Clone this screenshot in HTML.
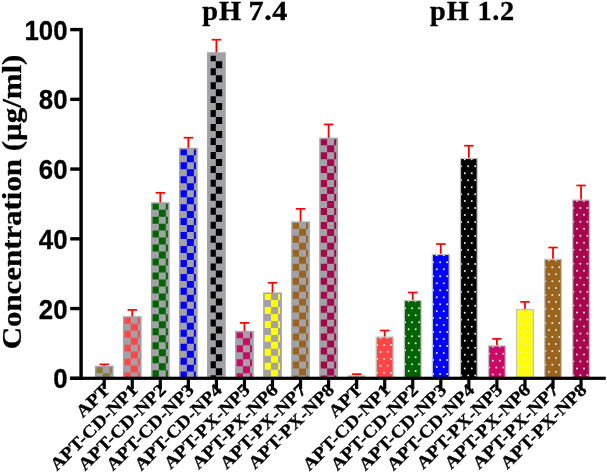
<!DOCTYPE html>
<html><head><meta charset="utf-8"><title>chart</title>
<style>
html,body{margin:0;padding:0;background:#fff;}
body{width:607px;height:473px;overflow:hidden;}
svg{display:block;will-change:transform;}
text{fill:#000;}
.ss{font-family:"Liberation Sans",sans-serif;font-weight:bold;}
.sf{font-family:"Liberation Serif",serif;font-weight:bold;}
</style></head><body>
<svg width="607" height="473" viewBox="0 0 607 473">
<defs><clipPath id="c0"><rect x="348.90" y="376.46" width="15.50" height="1.84"/></clipPath>
<clipPath id="c1"><rect x="376.95" y="337.76" width="15.50" height="40.54"/></clipPath>
<clipPath id="c2"><rect x="405.00" y="301.14" width="15.50" height="77.16"/></clipPath>
<clipPath id="c3"><rect x="433.05" y="255.11" width="15.50" height="123.19"/></clipPath>
<clipPath id="c4"><rect x="461.10" y="159.05" width="15.50" height="219.25"/></clipPath>
<clipPath id="c5"><rect x="489.15" y="346.47" width="15.50" height="31.83"/></clipPath>
<clipPath id="c6"><rect x="517.20" y="310.21" width="15.50" height="68.09"/></clipPath>
<clipPath id="c7"><rect x="545.25" y="260.00" width="15.50" height="118.30"/></clipPath>
<clipPath id="c8"><rect x="573.30" y="200.72" width="15.50" height="177.58"/></clipPath></defs>
<line x1="104.20" y1="366.75" x2="104.20" y2="364.35" stroke="#ff0000" stroke-width="1.8"/>
<line x1="99.50" y1="364.35" x2="108.90" y2="364.35" stroke="#ff0000" stroke-width="1.7"/>
<rect x="94.85" y="365.75" width="18.7" height="12.55" fill="#a2a2a6"/>
<path fill="#8b7a35" d="M96.45 367.35H102.73V373.22H96.45ZM109.71 367.35H111.75V373.22H109.71ZM102.73 373.22H109.71V378.30H102.73Z"/>
<line x1="132.25" y1="317.23" x2="132.25" y2="309.95" stroke="#ff0000" stroke-width="1.8"/>
<line x1="127.55" y1="309.95" x2="136.95" y2="309.95" stroke="#ff0000" stroke-width="1.7"/>
<rect x="122.90" y="316.23" width="18.7" height="62.07" fill="#a2a2a6"/>
<path fill="#ff4646" d="M124.50 317.83H130.78V323.71H124.50ZM137.76 317.83H139.80V323.71H137.76ZM130.78 323.71H137.76V330.69H130.78ZM124.50 330.69H130.78V337.67H124.50ZM137.76 330.69H139.80V337.67H137.76ZM130.78 337.67H137.76V344.64H130.78ZM124.50 344.64H130.78V351.62H124.50ZM137.76 344.64H139.80V351.62H137.76ZM130.78 351.62H137.76V358.60H130.78ZM124.50 358.60H130.78V365.58H124.50ZM137.76 358.60H139.80V365.58H137.76ZM130.78 365.58H137.76V372.56H130.78ZM124.50 372.56H130.78V378.30H124.50ZM137.76 372.56H139.80V378.30H137.76Z"/>
<line x1="160.30" y1="203.21" x2="160.30" y2="192.79" stroke="#ff0000" stroke-width="1.8"/>
<line x1="155.60" y1="192.79" x2="165.00" y2="192.79" stroke="#ff0000" stroke-width="1.7"/>
<rect x="150.95" y="202.21" width="18.7" height="176.09" fill="#a2a2a6"/>
<path fill="#006400" d="M152.55 203.81H158.83V209.68H152.55ZM165.81 203.81H167.85V209.68H165.81ZM158.83 209.68H165.81V216.66H158.83ZM152.55 216.66H158.83V223.64H152.55ZM165.81 216.66H167.85V223.64H165.81ZM158.83 223.64H165.81V230.62H158.83ZM152.55 230.62H158.83V237.60H152.55ZM165.81 230.62H167.85V237.60H165.81ZM158.83 237.60H165.81V244.57H158.83ZM152.55 244.57H158.83V251.55H152.55ZM165.81 244.57H167.85V251.55H165.81ZM158.83 251.55H165.81V258.53H158.83ZM152.55 258.53H158.83V265.51H152.55ZM165.81 258.53H167.85V265.51H165.81ZM158.83 265.51H165.81V272.49H158.83ZM152.55 272.49H158.83V279.46H152.55ZM165.81 272.49H167.85V279.46H165.81ZM158.83 279.46H165.81V286.44H158.83ZM152.55 286.44H158.83V293.42H152.55ZM165.81 286.44H167.85V293.42H165.81ZM158.83 293.42H165.81V300.40H158.83ZM152.55 300.40H158.83V307.38H152.55ZM165.81 300.40H167.85V307.38H165.81ZM158.83 307.38H165.81V314.35H158.83ZM152.55 314.35H158.83V321.33H152.55ZM165.81 314.35H167.85V321.33H165.81ZM158.83 321.33H165.81V328.31H158.83ZM152.55 328.31H158.83V335.29H152.55ZM165.81 328.31H167.85V335.29H165.81ZM158.83 335.29H165.81V342.27H158.83ZM152.55 342.27H158.83V349.24H152.55ZM165.81 342.27H167.85V349.24H165.81ZM158.83 349.24H165.81V356.22H158.83ZM152.55 356.22H158.83V363.20H152.55ZM165.81 356.22H167.85V363.20H165.81ZM158.83 363.20H165.81V370.18H158.83ZM152.55 370.18H158.83V377.16H152.55ZM165.81 370.18H167.85V377.16H165.81ZM158.83 377.16H165.81V378.30H158.83Z"/>
<line x1="188.35" y1="148.81" x2="188.35" y2="137.70" stroke="#ff0000" stroke-width="1.8"/>
<line x1="183.65" y1="137.70" x2="193.05" y2="137.70" stroke="#ff0000" stroke-width="1.7"/>
<rect x="179.00" y="147.81" width="18.7" height="230.49" fill="#a2a2a6"/>
<path fill="#0000ff" d="M180.60 149.41H186.88V155.29H180.60ZM193.86 149.41H195.90V155.29H193.86ZM186.88 155.29H193.86V162.27H186.88ZM180.60 162.27H186.88V169.24H180.60ZM193.86 162.27H195.90V169.24H193.86ZM186.88 169.24H193.86V176.22H186.88ZM180.60 176.22H186.88V183.20H180.60ZM193.86 176.22H195.90V183.20H193.86ZM186.88 183.20H193.86V190.18H186.88ZM180.60 190.18H186.88V197.16H180.60ZM193.86 190.18H195.90V197.16H193.86ZM186.88 197.16H193.86V204.13H186.88ZM180.60 204.13H186.88V211.11H180.60ZM193.86 204.13H195.90V211.11H193.86ZM186.88 211.11H193.86V218.09H186.88ZM180.60 218.09H186.88V225.07H180.60ZM193.86 218.09H195.90V225.07H193.86ZM186.88 225.07H193.86V232.05H186.88ZM180.60 232.05H186.88V239.02H180.60ZM193.86 232.05H195.90V239.02H193.86ZM186.88 239.02H193.86V246.00H186.88ZM180.60 246.00H186.88V252.98H180.60ZM193.86 246.00H195.90V252.98H193.86ZM186.88 252.98H193.86V259.96H186.88ZM180.60 259.96H186.88V266.94H180.60ZM193.86 259.96H195.90V266.94H193.86ZM186.88 266.94H193.86V273.91H186.88ZM180.60 273.91H186.88V280.89H180.60ZM193.86 273.91H195.90V280.89H193.86ZM186.88 280.89H193.86V287.87H186.88ZM180.60 287.87H186.88V294.85H180.60ZM193.86 287.87H195.90V294.85H193.86ZM186.88 294.85H193.86V301.83H186.88ZM180.60 301.83H186.88V308.80H180.60ZM193.86 301.83H195.90V308.80H193.86ZM186.88 308.80H193.86V315.78H186.88ZM180.60 315.78H186.88V322.76H180.60ZM193.86 315.78H195.90V322.76H193.86ZM186.88 322.76H193.86V329.74H186.88ZM180.60 329.74H186.88V336.72H180.60ZM193.86 329.74H195.90V336.72H193.86ZM186.88 336.72H193.86V343.69H186.88ZM180.60 343.69H186.88V350.67H180.60ZM193.86 343.69H195.90V350.67H193.86ZM186.88 350.67H193.86V357.65H186.88ZM180.60 357.65H186.88V364.63H180.60ZM193.86 357.65H195.90V364.63H193.86ZM186.88 364.63H193.86V371.61H186.88ZM180.60 371.61H186.88V378.30H180.60ZM193.86 371.61H195.90V378.30H193.86Z"/>
<line x1="216.40" y1="53.27" x2="216.40" y2="39.71" stroke="#ff0000" stroke-width="1.8"/>
<line x1="211.70" y1="39.71" x2="221.10" y2="39.71" stroke="#ff0000" stroke-width="1.7"/>
<rect x="207.05" y="52.27" width="18.7" height="326.03" fill="#a2a2a6"/>
<path fill="#000000" d="M210.65 55.87H215.83V61.24H210.65ZM215.83 61.24H222.15V68.22H215.83ZM210.65 68.22H215.83V75.20H210.65ZM215.83 75.20H222.15V82.18H215.83ZM210.65 82.18H215.83V89.16H210.65ZM215.83 89.16H222.15V96.13H215.83ZM210.65 96.13H215.83V103.11H210.65ZM215.83 103.11H222.15V110.09H215.83ZM210.65 110.09H215.83V117.07H210.65ZM215.83 117.07H222.15V124.05H215.83ZM210.65 124.05H215.83V131.02H210.65ZM215.83 131.02H222.15V138.00H215.83ZM210.65 138.00H215.83V144.98H210.65ZM215.83 144.98H222.15V151.96H215.83ZM210.65 151.96H215.83V158.94H210.65ZM215.83 158.94H222.15V165.91H215.83ZM210.65 165.91H215.83V172.89H210.65ZM215.83 172.89H222.15V179.87H215.83ZM210.65 179.87H215.83V186.85H210.65ZM215.83 186.85H222.15V193.83H215.83ZM210.65 193.83H215.83V200.80H210.65ZM215.83 200.80H222.15V207.78H215.83ZM210.65 207.78H215.83V214.76H210.65ZM215.83 214.76H222.15V221.74H215.83ZM210.65 221.74H215.83V228.72H210.65ZM215.83 228.72H222.15V235.69H215.83ZM210.65 235.69H215.83V242.67H210.65ZM215.83 242.67H222.15V249.65H215.83ZM210.65 249.65H215.83V256.63H210.65ZM215.83 256.63H222.15V263.61H215.83ZM210.65 263.61H215.83V270.58H210.65ZM215.83 270.58H222.15V277.56H215.83ZM210.65 277.56H215.83V284.54H210.65ZM215.83 284.54H222.15V291.52H215.83ZM210.65 291.52H215.83V298.50H210.65ZM215.83 298.50H222.15V305.47H215.83ZM210.65 305.47H215.83V312.45H210.65ZM215.83 312.45H222.15V319.43H215.83ZM210.65 319.43H215.83V326.41H210.65ZM215.83 326.41H222.15V333.39H215.83ZM210.65 333.39H215.83V340.36H210.65ZM215.83 340.36H222.15V347.34H215.83ZM210.65 347.34H215.83V354.32H210.65ZM215.83 354.32H222.15V361.30H215.83ZM210.65 361.30H215.83V368.28H210.65ZM215.83 368.28H222.15V375.25H215.83ZM210.65 375.25H215.83V378.30H210.65Z"/>
<line x1="244.45" y1="331.88" x2="244.45" y2="322.86" stroke="#ff0000" stroke-width="1.8"/>
<line x1="239.75" y1="322.86" x2="249.15" y2="322.86" stroke="#ff0000" stroke-width="1.7"/>
<rect x="235.10" y="330.88" width="18.7" height="47.42" fill="#a2a2a6"/>
<path fill="#cc0a66" d="M236.70 332.48H242.98V338.35H236.70ZM249.96 332.48H252.00V338.35H249.96ZM242.98 338.35H249.96V345.33H242.98ZM236.70 345.33H242.98V352.31H236.70ZM249.96 345.33H252.00V352.31H249.96ZM242.98 352.31H249.96V359.29H242.98ZM236.70 359.29H242.98V366.27H236.70ZM249.96 359.29H252.00V366.27H249.96ZM242.98 366.27H249.96V373.24H242.98ZM236.70 373.24H242.98V378.30H236.70ZM249.96 373.24H252.00V378.30H249.96Z"/>
<line x1="272.50" y1="293.52" x2="272.50" y2="282.76" stroke="#ff0000" stroke-width="1.8"/>
<line x1="267.80" y1="282.76" x2="277.20" y2="282.76" stroke="#ff0000" stroke-width="1.7"/>
<rect x="263.15" y="292.52" width="18.7" height="85.78" fill="#a2a2a6"/>
<path fill="#ffff00" d="M264.75 294.12H271.03V300.00H264.75ZM278.01 294.12H280.05V300.00H278.01ZM271.03 300.00H278.01V306.98H271.03ZM264.75 306.98H271.03V313.95H264.75ZM278.01 306.98H280.05V313.95H278.01ZM271.03 313.95H278.01V320.93H271.03ZM264.75 320.93H271.03V327.91H264.75ZM278.01 320.93H280.05V327.91H278.01ZM271.03 327.91H278.01V334.89H271.03ZM264.75 334.89H271.03V341.87H264.75ZM278.01 334.89H280.05V341.87H278.01ZM271.03 341.87H278.01V348.84H271.03ZM264.75 348.84H271.03V355.82H264.75ZM278.01 348.84H280.05V355.82H278.01ZM271.03 355.82H278.01V362.80H271.03ZM264.75 362.80H271.03V369.78H264.75ZM278.01 362.80H280.05V369.78H278.01ZM271.03 369.78H278.01V376.76H271.03ZM264.75 376.76H271.03V378.30H264.75ZM278.01 376.76H280.05V378.30H278.01Z"/>
<line x1="300.55" y1="222.39" x2="300.55" y2="208.83" stroke="#ff0000" stroke-width="1.8"/>
<line x1="295.85" y1="208.83" x2="305.25" y2="208.83" stroke="#ff0000" stroke-width="1.7"/>
<rect x="291.20" y="221.39" width="18.7" height="156.91" fill="#a2a2a6"/>
<path fill="#9a641c" d="M292.80 222.99H299.08V228.86H292.80ZM306.06 222.99H308.10V228.86H306.06ZM299.08 228.86H306.06V235.84H299.08ZM292.80 235.84H299.08V242.82H292.80ZM306.06 235.84H308.10V242.82H306.06ZM299.08 242.82H306.06V249.80H299.08ZM292.80 249.80H299.08V256.78H292.80ZM306.06 249.80H308.10V256.78H306.06ZM299.08 256.78H306.06V263.75H299.08ZM292.80 263.75H299.08V270.73H292.80ZM306.06 263.75H308.10V270.73H306.06ZM299.08 270.73H306.06V277.71H299.08ZM292.80 277.71H299.08V284.69H292.80ZM306.06 277.71H308.10V284.69H306.06ZM299.08 284.69H306.06V291.67H299.08ZM292.80 291.67H299.08V298.64H292.80ZM306.06 291.67H308.10V298.64H306.06ZM299.08 298.64H306.06V305.62H299.08ZM292.80 305.62H299.08V312.60H292.80ZM306.06 305.62H308.10V312.60H306.06ZM299.08 312.60H306.06V319.58H299.08ZM292.80 319.58H299.08V326.56H292.80ZM306.06 319.58H308.10V326.56H306.06ZM299.08 326.56H306.06V333.53H299.08ZM292.80 333.53H299.08V340.51H292.80ZM306.06 333.53H308.10V340.51H306.06ZM299.08 340.51H306.06V347.49H299.08ZM292.80 347.49H299.08V354.47H292.80ZM306.06 347.49H308.10V354.47H306.06ZM299.08 354.47H306.06V361.44H299.08ZM292.80 361.45H299.08V368.42H292.80ZM306.06 361.45H308.10V368.42H306.06ZM299.08 368.42H306.06V375.40H299.08ZM292.80 375.40H299.08V378.30H292.80ZM306.06 375.40H308.10V378.30H306.06Z"/>
<line x1="328.60" y1="138.70" x2="328.60" y2="124.45" stroke="#ff0000" stroke-width="1.8"/>
<line x1="323.90" y1="124.45" x2="333.30" y2="124.45" stroke="#ff0000" stroke-width="1.7"/>
<rect x="319.25" y="137.70" width="18.7" height="240.60" fill="#a2a2a6"/>
<path fill="#a8054f" d="M320.85 139.30H327.13V145.18H320.85ZM334.11 139.30H336.15V145.18H334.11ZM327.13 145.18H334.11V152.15H327.13ZM320.85 152.15H327.13V159.13H320.85ZM334.11 152.15H336.15V159.13H334.11ZM327.13 159.13H334.11V166.11H327.13ZM320.85 166.11H327.13V173.09H320.85ZM334.11 166.11H336.15V173.09H334.11ZM327.13 173.09H334.11V180.07H327.13ZM320.85 180.07H327.13V187.04H320.85ZM334.11 180.07H336.15V187.04H334.11ZM327.13 187.04H334.11V194.02H327.13ZM320.85 194.02H327.13V201.00H320.85ZM334.11 194.02H336.15V201.00H334.11ZM327.13 201.00H334.11V207.98H327.13ZM320.85 207.98H327.13V214.96H320.85ZM334.11 207.98H336.15V214.96H334.11ZM327.13 214.96H334.11V221.93H327.13ZM320.85 221.93H327.13V228.91H320.85ZM334.11 221.93H336.15V228.91H334.11ZM327.13 228.91H334.11V235.89H327.13ZM320.85 235.89H327.13V242.87H320.85ZM334.11 235.89H336.15V242.87H334.11ZM327.13 242.87H334.11V249.85H327.13ZM320.85 249.85H327.13V256.82H320.85ZM334.11 249.85H336.15V256.82H334.11ZM327.13 256.82H334.11V263.80H327.13ZM320.85 263.80H327.13V270.78H320.85ZM334.11 263.80H336.15V270.78H334.11ZM327.13 270.78H334.11V277.76H327.13ZM320.85 277.76H327.13V284.74H320.85ZM334.11 277.76H336.15V284.74H334.11ZM327.13 284.74H334.11V291.71H327.13ZM320.85 291.71H327.13V298.69H320.85ZM334.11 291.71H336.15V298.69H334.11ZM327.13 298.69H334.11V305.67H327.13ZM320.85 305.67H327.13V312.65H320.85ZM334.11 305.67H336.15V312.65H334.11ZM327.13 312.65H334.11V319.63H327.13ZM320.85 319.62H327.13V326.60H320.85ZM334.11 319.62H336.15V326.60H334.11ZM327.13 326.60H334.11V333.58H327.13ZM320.85 333.58H327.13V340.56H320.85ZM334.11 333.58H336.15V340.56H334.11ZM327.13 340.56H334.11V347.54H327.13ZM320.85 347.54H327.13V354.52H320.85ZM334.11 347.54H336.15V354.52H334.11ZM327.13 354.51H334.11V361.49H327.13ZM320.85 361.49H327.13V368.47H320.85ZM334.11 361.49H336.15V368.47H334.11ZM327.13 368.47H334.11V375.45H327.13ZM320.85 375.45H327.13V378.30H320.85ZM334.11 375.45H336.15V378.30H334.11Z"/>
<line x1="356.65" y1="376.16" x2="356.65" y2="374.12" stroke="#ff0000" stroke-width="1.8"/>
<line x1="351.95" y1="374.12" x2="361.35" y2="374.12" stroke="#ff0000" stroke-width="1.7"/>
<rect x="347.60" y="375.16" width="18.1" height="3.14" fill="#c4c4c4"/>
<rect x="348.90" y="376.46" width="15.50" height="1.84" fill="#8b7a35"/>
<g fill="#e6e6e6" clip-path="url(#c0)"><circle cx="352.60" cy="376.66" r="1.0"/><circle cx="359.58" cy="376.66" r="1.0"/></g>
<line x1="384.70" y1="337.46" x2="384.70" y2="330.53" stroke="#ff0000" stroke-width="1.8"/>
<line x1="380.00" y1="330.53" x2="389.40" y2="330.53" stroke="#ff0000" stroke-width="1.7"/>
<rect x="375.65" y="336.46" width="18.1" height="41.84" fill="#c4c4c4"/>
<rect x="376.95" y="337.76" width="15.50" height="40.54" fill="#ff4646"/>
<g fill="#e6e6e6" clip-path="url(#c1)"><circle cx="380.65" cy="337.96" r="1.0"/><circle cx="387.63" cy="337.96" r="1.0"/><circle cx="377.05" cy="344.93" r="1.0"/><circle cx="384.03" cy="344.93" r="1.0"/><circle cx="391.01" cy="344.93" r="1.0"/><circle cx="380.65" cy="351.91" r="1.0"/><circle cx="387.63" cy="351.91" r="1.0"/><circle cx="377.05" cy="358.89" r="1.0"/><circle cx="384.03" cy="358.89" r="1.0"/><circle cx="391.01" cy="358.89" r="1.0"/><circle cx="380.65" cy="365.87" r="1.0"/><circle cx="387.63" cy="365.87" r="1.0"/><circle cx="377.05" cy="372.85" r="1.0"/><circle cx="384.03" cy="372.85" r="1.0"/><circle cx="391.01" cy="372.85" r="1.0"/></g>
<line x1="412.75" y1="300.84" x2="412.75" y2="292.52" stroke="#ff0000" stroke-width="1.8"/>
<line x1="408.05" y1="292.52" x2="417.45" y2="292.52" stroke="#ff0000" stroke-width="1.7"/>
<rect x="403.70" y="299.84" width="18.1" height="78.46" fill="#c4c4c4"/>
<rect x="405.00" y="301.14" width="15.50" height="77.16" fill="#006400"/>
<g fill="#e6e6e6" clip-path="url(#c2)"><circle cx="408.70" cy="301.34" r="1.0"/><circle cx="415.68" cy="301.34" r="1.0"/><circle cx="405.10" cy="308.32" r="1.0"/><circle cx="412.08" cy="308.32" r="1.0"/><circle cx="419.06" cy="308.32" r="1.0"/><circle cx="408.70" cy="315.30" r="1.0"/><circle cx="415.68" cy="315.30" r="1.0"/><circle cx="405.10" cy="322.28" r="1.0"/><circle cx="412.08" cy="322.28" r="1.0"/><circle cx="419.06" cy="322.28" r="1.0"/><circle cx="408.70" cy="329.25" r="1.0"/><circle cx="415.68" cy="329.25" r="1.0"/><circle cx="405.10" cy="336.23" r="1.0"/><circle cx="412.08" cy="336.23" r="1.0"/><circle cx="419.06" cy="336.23" r="1.0"/><circle cx="408.70" cy="343.21" r="1.0"/><circle cx="415.68" cy="343.21" r="1.0"/><circle cx="405.10" cy="350.19" r="1.0"/><circle cx="412.08" cy="350.19" r="1.0"/><circle cx="419.06" cy="350.19" r="1.0"/><circle cx="408.70" cy="357.17" r="1.0"/><circle cx="415.68" cy="357.17" r="1.0"/><circle cx="405.10" cy="364.14" r="1.0"/><circle cx="412.08" cy="364.14" r="1.0"/><circle cx="419.06" cy="364.14" r="1.0"/><circle cx="408.70" cy="371.12" r="1.0"/><circle cx="415.68" cy="371.12" r="1.0"/><circle cx="405.10" cy="378.10" r="1.0"/><circle cx="412.08" cy="378.10" r="1.0"/><circle cx="419.06" cy="378.10" r="1.0"/></g>
<line x1="440.80" y1="254.81" x2="440.80" y2="244.05" stroke="#ff0000" stroke-width="1.8"/>
<line x1="436.10" y1="244.05" x2="445.50" y2="244.05" stroke="#ff0000" stroke-width="1.7"/>
<rect x="431.75" y="253.81" width="18.1" height="124.49" fill="#c4c4c4"/>
<rect x="433.05" y="255.11" width="15.50" height="123.19" fill="#0000ff"/>
<g fill="#e6e6e6" clip-path="url(#c3)"><circle cx="436.75" cy="255.31" r="1.0"/><circle cx="443.73" cy="255.31" r="1.0"/><circle cx="433.15" cy="262.29" r="1.0"/><circle cx="440.13" cy="262.29" r="1.0"/><circle cx="447.11" cy="262.29" r="1.0"/><circle cx="436.75" cy="269.27" r="1.0"/><circle cx="443.73" cy="269.27" r="1.0"/><circle cx="433.15" cy="276.25" r="1.0"/><circle cx="440.13" cy="276.25" r="1.0"/><circle cx="447.11" cy="276.25" r="1.0"/><circle cx="436.75" cy="283.23" r="1.0"/><circle cx="443.73" cy="283.23" r="1.0"/><circle cx="433.15" cy="290.20" r="1.0"/><circle cx="440.13" cy="290.20" r="1.0"/><circle cx="447.11" cy="290.20" r="1.0"/><circle cx="436.75" cy="297.18" r="1.0"/><circle cx="443.73" cy="297.18" r="1.0"/><circle cx="433.15" cy="304.16" r="1.0"/><circle cx="440.13" cy="304.16" r="1.0"/><circle cx="447.11" cy="304.16" r="1.0"/><circle cx="436.75" cy="311.14" r="1.0"/><circle cx="443.73" cy="311.14" r="1.0"/><circle cx="433.15" cy="318.12" r="1.0"/><circle cx="440.13" cy="318.12" r="1.0"/><circle cx="447.11" cy="318.12" r="1.0"/><circle cx="436.75" cy="325.09" r="1.0"/><circle cx="443.73" cy="325.09" r="1.0"/><circle cx="433.15" cy="332.07" r="1.0"/><circle cx="440.13" cy="332.07" r="1.0"/><circle cx="447.11" cy="332.07" r="1.0"/><circle cx="436.75" cy="339.05" r="1.0"/><circle cx="443.73" cy="339.05" r="1.0"/><circle cx="433.15" cy="346.03" r="1.0"/><circle cx="440.13" cy="346.03" r="1.0"/><circle cx="447.11" cy="346.03" r="1.0"/><circle cx="436.75" cy="353.01" r="1.0"/><circle cx="443.73" cy="353.01" r="1.0"/><circle cx="433.15" cy="359.98" r="1.0"/><circle cx="440.13" cy="359.98" r="1.0"/><circle cx="447.11" cy="359.98" r="1.0"/><circle cx="436.75" cy="366.96" r="1.0"/><circle cx="443.73" cy="366.96" r="1.0"/><circle cx="433.15" cy="373.94" r="1.0"/><circle cx="440.13" cy="373.94" r="1.0"/><circle cx="447.11" cy="373.94" r="1.0"/></g>
<line x1="468.85" y1="158.75" x2="468.85" y2="145.72" stroke="#ff0000" stroke-width="1.8"/>
<line x1="464.15" y1="145.72" x2="473.55" y2="145.72" stroke="#ff0000" stroke-width="1.7"/>
<rect x="459.80" y="157.75" width="18.1" height="220.55" fill="#c4c4c4"/>
<rect x="461.10" y="159.05" width="15.50" height="219.25" fill="#000000"/>
<g fill="#e6e6e6" clip-path="url(#c4)"><circle cx="464.80" cy="159.25" r="1.0"/><circle cx="471.78" cy="159.25" r="1.0"/><circle cx="461.20" cy="166.23" r="1.0"/><circle cx="468.18" cy="166.23" r="1.0"/><circle cx="475.16" cy="166.23" r="1.0"/><circle cx="464.80" cy="173.20" r="1.0"/><circle cx="471.78" cy="173.20" r="1.0"/><circle cx="461.20" cy="180.18" r="1.0"/><circle cx="468.18" cy="180.18" r="1.0"/><circle cx="475.16" cy="180.18" r="1.0"/><circle cx="464.80" cy="187.16" r="1.0"/><circle cx="471.78" cy="187.16" r="1.0"/><circle cx="461.20" cy="194.14" r="1.0"/><circle cx="468.18" cy="194.14" r="1.0"/><circle cx="475.16" cy="194.14" r="1.0"/><circle cx="464.80" cy="201.12" r="1.0"/><circle cx="471.78" cy="201.12" r="1.0"/><circle cx="461.20" cy="208.09" r="1.0"/><circle cx="468.18" cy="208.09" r="1.0"/><circle cx="475.16" cy="208.09" r="1.0"/><circle cx="464.80" cy="215.07" r="1.0"/><circle cx="471.78" cy="215.07" r="1.0"/><circle cx="461.20" cy="222.05" r="1.0"/><circle cx="468.18" cy="222.05" r="1.0"/><circle cx="475.16" cy="222.05" r="1.0"/><circle cx="464.80" cy="229.03" r="1.0"/><circle cx="471.78" cy="229.03" r="1.0"/><circle cx="461.20" cy="236.01" r="1.0"/><circle cx="468.18" cy="236.01" r="1.0"/><circle cx="475.16" cy="236.01" r="1.0"/><circle cx="464.80" cy="242.98" r="1.0"/><circle cx="471.78" cy="242.98" r="1.0"/><circle cx="461.20" cy="249.96" r="1.0"/><circle cx="468.18" cy="249.96" r="1.0"/><circle cx="475.16" cy="249.96" r="1.0"/><circle cx="464.80" cy="256.94" r="1.0"/><circle cx="471.78" cy="256.94" r="1.0"/><circle cx="461.20" cy="263.92" r="1.0"/><circle cx="468.18" cy="263.92" r="1.0"/><circle cx="475.16" cy="263.92" r="1.0"/><circle cx="464.80" cy="270.90" r="1.0"/><circle cx="471.78" cy="270.90" r="1.0"/><circle cx="461.20" cy="277.87" r="1.0"/><circle cx="468.18" cy="277.87" r="1.0"/><circle cx="475.16" cy="277.87" r="1.0"/><circle cx="464.80" cy="284.85" r="1.0"/><circle cx="471.78" cy="284.85" r="1.0"/><circle cx="461.20" cy="291.83" r="1.0"/><circle cx="468.18" cy="291.83" r="1.0"/><circle cx="475.16" cy="291.83" r="1.0"/><circle cx="464.80" cy="298.81" r="1.0"/><circle cx="471.78" cy="298.81" r="1.0"/><circle cx="461.20" cy="305.79" r="1.0"/><circle cx="468.18" cy="305.79" r="1.0"/><circle cx="475.16" cy="305.79" r="1.0"/><circle cx="464.80" cy="312.76" r="1.0"/><circle cx="471.78" cy="312.76" r="1.0"/><circle cx="461.20" cy="319.74" r="1.0"/><circle cx="468.18" cy="319.74" r="1.0"/><circle cx="475.16" cy="319.74" r="1.0"/><circle cx="464.80" cy="326.72" r="1.0"/><circle cx="471.78" cy="326.72" r="1.0"/><circle cx="461.20" cy="333.70" r="1.0"/><circle cx="468.18" cy="333.70" r="1.0"/><circle cx="475.16" cy="333.70" r="1.0"/><circle cx="464.80" cy="340.68" r="1.0"/><circle cx="471.78" cy="340.68" r="1.0"/><circle cx="461.20" cy="347.65" r="1.0"/><circle cx="468.18" cy="347.65" r="1.0"/><circle cx="475.16" cy="347.65" r="1.0"/><circle cx="464.80" cy="354.63" r="1.0"/><circle cx="471.78" cy="354.63" r="1.0"/><circle cx="461.20" cy="361.61" r="1.0"/><circle cx="468.18" cy="361.61" r="1.0"/><circle cx="475.16" cy="361.61" r="1.0"/><circle cx="464.80" cy="368.59" r="1.0"/><circle cx="471.78" cy="368.59" r="1.0"/><circle cx="461.20" cy="375.57" r="1.0"/><circle cx="468.18" cy="375.57" r="1.0"/><circle cx="475.16" cy="375.57" r="1.0"/></g>
<line x1="496.90" y1="346.17" x2="496.90" y2="338.90" stroke="#ff0000" stroke-width="1.8"/>
<line x1="492.20" y1="338.90" x2="501.60" y2="338.90" stroke="#ff0000" stroke-width="1.7"/>
<rect x="487.85" y="345.17" width="18.1" height="33.13" fill="#c4c4c4"/>
<rect x="489.15" y="346.47" width="15.50" height="31.83" fill="#cc0a66"/>
<g fill="#e6e6e6" clip-path="url(#c5)"><circle cx="492.85" cy="346.67" r="1.0"/><circle cx="499.83" cy="346.67" r="1.0"/><circle cx="489.25" cy="353.65" r="1.0"/><circle cx="496.23" cy="353.65" r="1.0"/><circle cx="503.21" cy="353.65" r="1.0"/><circle cx="492.85" cy="360.63" r="1.0"/><circle cx="499.83" cy="360.63" r="1.0"/><circle cx="489.25" cy="367.61" r="1.0"/><circle cx="496.23" cy="367.61" r="1.0"/><circle cx="503.21" cy="367.61" r="1.0"/><circle cx="492.85" cy="374.59" r="1.0"/><circle cx="499.83" cy="374.59" r="1.0"/></g>
<line x1="524.95" y1="309.91" x2="524.95" y2="301.93" stroke="#ff0000" stroke-width="1.8"/>
<line x1="520.25" y1="301.93" x2="529.65" y2="301.93" stroke="#ff0000" stroke-width="1.7"/>
<rect x="515.90" y="308.91" width="18.1" height="69.39" fill="#c4c4c4"/>
<rect x="517.20" y="310.21" width="15.50" height="68.09" fill="#ffff00"/>
<g fill="#e6e6e6" clip-path="url(#c6)"><circle cx="520.90" cy="310.41" r="1.0"/><circle cx="527.88" cy="310.41" r="1.0"/><circle cx="517.30" cy="317.39" r="1.0"/><circle cx="524.28" cy="317.39" r="1.0"/><circle cx="531.26" cy="317.39" r="1.0"/><circle cx="520.90" cy="324.36" r="1.0"/><circle cx="527.88" cy="324.36" r="1.0"/><circle cx="517.30" cy="331.34" r="1.0"/><circle cx="524.28" cy="331.34" r="1.0"/><circle cx="531.26" cy="331.34" r="1.0"/><circle cx="520.90" cy="338.32" r="1.0"/><circle cx="527.88" cy="338.32" r="1.0"/><circle cx="517.30" cy="345.30" r="1.0"/><circle cx="524.28" cy="345.30" r="1.0"/><circle cx="531.26" cy="345.30" r="1.0"/><circle cx="520.90" cy="352.28" r="1.0"/><circle cx="527.88" cy="352.28" r="1.0"/><circle cx="517.30" cy="359.25" r="1.0"/><circle cx="524.28" cy="359.25" r="1.0"/><circle cx="531.26" cy="359.25" r="1.0"/><circle cx="520.90" cy="366.23" r="1.0"/><circle cx="527.88" cy="366.23" r="1.0"/><circle cx="517.30" cy="373.21" r="1.0"/><circle cx="524.28" cy="373.21" r="1.0"/><circle cx="531.26" cy="373.21" r="1.0"/></g>
<line x1="553.00" y1="259.70" x2="553.00" y2="247.54" stroke="#ff0000" stroke-width="1.8"/>
<line x1="548.30" y1="247.54" x2="557.70" y2="247.54" stroke="#ff0000" stroke-width="1.7"/>
<rect x="543.95" y="258.70" width="18.1" height="119.60" fill="#c4c4c4"/>
<rect x="545.25" y="260.00" width="15.50" height="118.30" fill="#9a641c"/>
<g fill="#e6e6e6" clip-path="url(#c7)"><circle cx="548.95" cy="260.20" r="1.0"/><circle cx="555.93" cy="260.20" r="1.0"/><circle cx="545.35" cy="267.17" r="1.0"/><circle cx="552.33" cy="267.17" r="1.0"/><circle cx="559.31" cy="267.17" r="1.0"/><circle cx="548.95" cy="274.15" r="1.0"/><circle cx="555.93" cy="274.15" r="1.0"/><circle cx="545.35" cy="281.13" r="1.0"/><circle cx="552.33" cy="281.13" r="1.0"/><circle cx="559.31" cy="281.13" r="1.0"/><circle cx="548.95" cy="288.11" r="1.0"/><circle cx="555.93" cy="288.11" r="1.0"/><circle cx="545.35" cy="295.09" r="1.0"/><circle cx="552.33" cy="295.09" r="1.0"/><circle cx="559.31" cy="295.09" r="1.0"/><circle cx="548.95" cy="302.06" r="1.0"/><circle cx="555.93" cy="302.06" r="1.0"/><circle cx="545.35" cy="309.04" r="1.0"/><circle cx="552.33" cy="309.04" r="1.0"/><circle cx="559.31" cy="309.04" r="1.0"/><circle cx="548.95" cy="316.02" r="1.0"/><circle cx="555.93" cy="316.02" r="1.0"/><circle cx="545.35" cy="323.00" r="1.0"/><circle cx="552.33" cy="323.00" r="1.0"/><circle cx="559.31" cy="323.00" r="1.0"/><circle cx="548.95" cy="329.98" r="1.0"/><circle cx="555.93" cy="329.98" r="1.0"/><circle cx="545.35" cy="336.95" r="1.0"/><circle cx="552.33" cy="336.95" r="1.0"/><circle cx="559.31" cy="336.95" r="1.0"/><circle cx="548.95" cy="343.93" r="1.0"/><circle cx="555.93" cy="343.93" r="1.0"/><circle cx="545.35" cy="350.91" r="1.0"/><circle cx="552.33" cy="350.91" r="1.0"/><circle cx="559.31" cy="350.91" r="1.0"/><circle cx="548.95" cy="357.89" r="1.0"/><circle cx="555.93" cy="357.89" r="1.0"/><circle cx="545.35" cy="364.87" r="1.0"/><circle cx="552.33" cy="364.87" r="1.0"/><circle cx="559.31" cy="364.87" r="1.0"/><circle cx="548.95" cy="371.84" r="1.0"/><circle cx="555.93" cy="371.84" r="1.0"/><circle cx="545.35" cy="378.82" r="1.0"/><circle cx="552.33" cy="378.82" r="1.0"/><circle cx="559.31" cy="378.82" r="1.0"/></g>
<line x1="581.05" y1="200.42" x2="581.05" y2="185.47" stroke="#ff0000" stroke-width="1.8"/>
<line x1="576.35" y1="185.47" x2="585.75" y2="185.47" stroke="#ff0000" stroke-width="1.7"/>
<rect x="572.00" y="199.42" width="18.1" height="178.88" fill="#c4c4c4"/>
<rect x="573.30" y="200.72" width="15.50" height="177.58" fill="#a8054f"/>
<g fill="#e6e6e6" clip-path="url(#c8)"><circle cx="577.00" cy="200.92" r="1.0"/><circle cx="583.98" cy="200.92" r="1.0"/><circle cx="573.40" cy="207.89" r="1.0"/><circle cx="580.38" cy="207.89" r="1.0"/><circle cx="587.36" cy="207.89" r="1.0"/><circle cx="577.00" cy="214.87" r="1.0"/><circle cx="583.98" cy="214.87" r="1.0"/><circle cx="573.40" cy="221.85" r="1.0"/><circle cx="580.38" cy="221.85" r="1.0"/><circle cx="587.36" cy="221.85" r="1.0"/><circle cx="577.00" cy="228.83" r="1.0"/><circle cx="583.98" cy="228.83" r="1.0"/><circle cx="573.40" cy="235.81" r="1.0"/><circle cx="580.38" cy="235.81" r="1.0"/><circle cx="587.36" cy="235.81" r="1.0"/><circle cx="577.00" cy="242.78" r="1.0"/><circle cx="583.98" cy="242.78" r="1.0"/><circle cx="573.40" cy="249.76" r="1.0"/><circle cx="580.38" cy="249.76" r="1.0"/><circle cx="587.36" cy="249.76" r="1.0"/><circle cx="577.00" cy="256.74" r="1.0"/><circle cx="583.98" cy="256.74" r="1.0"/><circle cx="573.40" cy="263.72" r="1.0"/><circle cx="580.38" cy="263.72" r="1.0"/><circle cx="587.36" cy="263.72" r="1.0"/><circle cx="577.00" cy="270.70" r="1.0"/><circle cx="583.98" cy="270.70" r="1.0"/><circle cx="573.40" cy="277.67" r="1.0"/><circle cx="580.38" cy="277.67" r="1.0"/><circle cx="587.36" cy="277.67" r="1.0"/><circle cx="577.00" cy="284.65" r="1.0"/><circle cx="583.98" cy="284.65" r="1.0"/><circle cx="573.40" cy="291.63" r="1.0"/><circle cx="580.38" cy="291.63" r="1.0"/><circle cx="587.36" cy="291.63" r="1.0"/><circle cx="577.00" cy="298.61" r="1.0"/><circle cx="583.98" cy="298.61" r="1.0"/><circle cx="573.40" cy="305.59" r="1.0"/><circle cx="580.38" cy="305.59" r="1.0"/><circle cx="587.36" cy="305.59" r="1.0"/><circle cx="577.00" cy="312.56" r="1.0"/><circle cx="583.98" cy="312.56" r="1.0"/><circle cx="573.40" cy="319.54" r="1.0"/><circle cx="580.38" cy="319.54" r="1.0"/><circle cx="587.36" cy="319.54" r="1.0"/><circle cx="577.00" cy="326.52" r="1.0"/><circle cx="583.98" cy="326.52" r="1.0"/><circle cx="573.40" cy="333.50" r="1.0"/><circle cx="580.38" cy="333.50" r="1.0"/><circle cx="587.36" cy="333.50" r="1.0"/><circle cx="577.00" cy="340.48" r="1.0"/><circle cx="583.98" cy="340.48" r="1.0"/><circle cx="573.40" cy="347.45" r="1.0"/><circle cx="580.38" cy="347.45" r="1.0"/><circle cx="587.36" cy="347.45" r="1.0"/><circle cx="577.00" cy="354.43" r="1.0"/><circle cx="583.98" cy="354.43" r="1.0"/><circle cx="573.40" cy="361.41" r="1.0"/><circle cx="580.38" cy="361.41" r="1.0"/><circle cx="587.36" cy="361.41" r="1.0"/><circle cx="577.00" cy="368.39" r="1.0"/><circle cx="583.98" cy="368.39" r="1.0"/><circle cx="573.40" cy="375.37" r="1.0"/><circle cx="580.38" cy="375.37" r="1.0"/><circle cx="587.36" cy="375.37" r="1.0"/></g>
<rect x="79.40" y="27.90" width="3.4" height="352.10" fill="#000"/>
<rect x="70.2" y="376.70" width="535.60" height="3.1999999999999997" fill="#000"/>
<rect x="70.2" y="376.60" width="10" height="3.4" fill="#000"/>
<text class="ss" font-size="27.2" stroke="#000" stroke-width="0.3" text-anchor="end" transform="translate(67.6,388.40) scale(0.95,1)">0</text>
<rect x="70.2" y="306.86" width="10" height="3.4" fill="#000"/>
<text class="ss" font-size="27.2" stroke="#000" stroke-width="0.3" text-anchor="end" transform="translate(67.6,318.66) scale(0.95,1)">20</text>
<rect x="70.2" y="237.12" width="10" height="3.4" fill="#000"/>
<text class="ss" font-size="27.2" stroke="#000" stroke-width="0.3" text-anchor="end" transform="translate(67.6,248.92) scale(0.95,1)">40</text>
<rect x="70.2" y="167.38" width="10" height="3.4" fill="#000"/>
<text class="ss" font-size="27.2" stroke="#000" stroke-width="0.3" text-anchor="end" transform="translate(67.6,179.18) scale(0.95,1)">60</text>
<rect x="70.2" y="97.64" width="10" height="3.4" fill="#000"/>
<text class="ss" font-size="27.2" stroke="#000" stroke-width="0.3" text-anchor="end" transform="translate(67.6,109.44) scale(0.95,1)">80</text>
<rect x="70.2" y="27.90" width="10" height="3.4" fill="#000"/>
<text class="ss" font-size="27.2" stroke="#000" stroke-width="0.3" text-anchor="end" transform="translate(67.6,39.70) scale(0.95,1)">100</text>
<rect x="102.60" y="378" width="3.2" height="11" fill="#000"/>
<text class="sf" font-size="17.6" text-anchor="end" transform="translate(110.80,391.00) rotate(-44.5) scale(1.115,1)" stroke="#000" stroke-width="0.3">APT</text>
<rect x="130.65" y="378" width="3.2" height="11" fill="#000"/>
<text class="sf" font-size="17.6" text-anchor="end" transform="translate(138.85,391.00) rotate(-44.5) scale(1.115,1)" stroke="#000" stroke-width="0.3">APT-CD-NP1</text>
<rect x="158.70" y="378" width="3.2" height="11" fill="#000"/>
<text class="sf" font-size="17.6" text-anchor="end" transform="translate(166.90,391.00) rotate(-44.5) scale(1.115,1)" stroke="#000" stroke-width="0.3">APT-CD-NP2</text>
<rect x="186.75" y="378" width="3.2" height="11" fill="#000"/>
<text class="sf" font-size="17.6" text-anchor="end" transform="translate(194.95,391.00) rotate(-44.5) scale(1.115,1)" stroke="#000" stroke-width="0.3">APT-CD-NP3</text>
<rect x="214.80" y="378" width="3.2" height="11" fill="#000"/>
<text class="sf" font-size="17.6" text-anchor="end" transform="translate(223.00,391.00) rotate(-44.5) scale(1.115,1)" stroke="#000" stroke-width="0.3">APT-CD-NP4</text>
<rect x="242.85" y="378" width="3.2" height="11" fill="#000"/>
<text class="sf" font-size="17.6" text-anchor="end" transform="translate(251.05,391.00) rotate(-44.5) scale(1.115,1)" stroke="#000" stroke-width="0.3">APT-PX-NP5</text>
<rect x="270.90" y="378" width="3.2" height="11" fill="#000"/>
<text class="sf" font-size="17.6" text-anchor="end" transform="translate(279.10,391.00) rotate(-44.5) scale(1.115,1)" stroke="#000" stroke-width="0.3">APT-PX-NP6</text>
<rect x="298.95" y="378" width="3.2" height="11" fill="#000"/>
<text class="sf" font-size="17.6" text-anchor="end" transform="translate(307.15,391.00) rotate(-44.5) scale(1.115,1)" stroke="#000" stroke-width="0.3">APT-PX-NP7</text>
<rect x="327.00" y="378" width="3.2" height="11" fill="#000"/>
<text class="sf" font-size="17.6" text-anchor="end" transform="translate(335.20,391.00) rotate(-44.5) scale(1.115,1)" stroke="#000" stroke-width="0.3">APT-PX-NP8</text>
<rect x="355.05" y="378" width="3.2" height="11" fill="#000"/>
<text class="sf" font-size="17.6" text-anchor="end" transform="translate(363.25,391.00) rotate(-44.5) scale(1.115,1)" stroke="#000" stroke-width="0.3">APT</text>
<rect x="383.10" y="378" width="3.2" height="11" fill="#000"/>
<text class="sf" font-size="17.6" text-anchor="end" transform="translate(391.30,391.00) rotate(-44.5) scale(1.115,1)" stroke="#000" stroke-width="0.3">APT-CD-NP1</text>
<rect x="411.15" y="378" width="3.2" height="11" fill="#000"/>
<text class="sf" font-size="17.6" text-anchor="end" transform="translate(419.35,391.00) rotate(-44.5) scale(1.115,1)" stroke="#000" stroke-width="0.3">APT-CD-NP2</text>
<rect x="439.20" y="378" width="3.2" height="11" fill="#000"/>
<text class="sf" font-size="17.6" text-anchor="end" transform="translate(447.40,391.00) rotate(-44.5) scale(1.115,1)" stroke="#000" stroke-width="0.3">APT-CD-NP3</text>
<rect x="467.25" y="378" width="3.2" height="11" fill="#000"/>
<text class="sf" font-size="17.6" text-anchor="end" transform="translate(475.45,391.00) rotate(-44.5) scale(1.115,1)" stroke="#000" stroke-width="0.3">APT-CD-NP4</text>
<rect x="495.30" y="378" width="3.2" height="11" fill="#000"/>
<text class="sf" font-size="17.6" text-anchor="end" transform="translate(503.50,391.00) rotate(-44.5) scale(1.115,1)" stroke="#000" stroke-width="0.3">APT-PX-NP5</text>
<rect x="523.35" y="378" width="3.2" height="11" fill="#000"/>
<text class="sf" font-size="17.6" text-anchor="end" transform="translate(531.55,391.00) rotate(-44.5) scale(1.115,1)" stroke="#000" stroke-width="0.3">APT-PX-NP6</text>
<rect x="551.40" y="378" width="3.2" height="11" fill="#000"/>
<text class="sf" font-size="17.6" text-anchor="end" transform="translate(559.60,391.00) rotate(-44.5) scale(1.115,1)" stroke="#000" stroke-width="0.3">APT-PX-NP7</text>
<rect x="579.45" y="378" width="3.2" height="11" fill="#000"/>
<text class="sf" font-size="17.6" text-anchor="end" transform="translate(587.65,391.00) rotate(-44.5) scale(1.115,1)" stroke="#000" stroke-width="0.3">APT-PX-NP8</text>
<text class="sf" font-size="28.3" stroke="#000" stroke-width="0.35" x="202.3" y="20.4" letter-spacing="0.9">pH</text>
<text class="sf" font-size="28.3" stroke="#000" stroke-width="0.35" transform="translate(248.6,20.4) scale(1.065,1)" letter-spacing="0.55">7.4</text>
<text class="sf" font-size="28.3" stroke="#000" stroke-width="0.35" x="430.0" y="20.4" letter-spacing="0.9">pH</text>
<text class="sf" font-size="28.3" stroke="#000" stroke-width="0.35" x="477.6" y="20.4" letter-spacing="0.55">1.2</text>
<text class="sf" font-size="27.2" stroke="#000" stroke-width="0.3" text-anchor="middle" transform="translate(20.5,202.0) rotate(-90) scale(1.135,1)">Concentration (µg/ml)</text>
</svg></body></html>
